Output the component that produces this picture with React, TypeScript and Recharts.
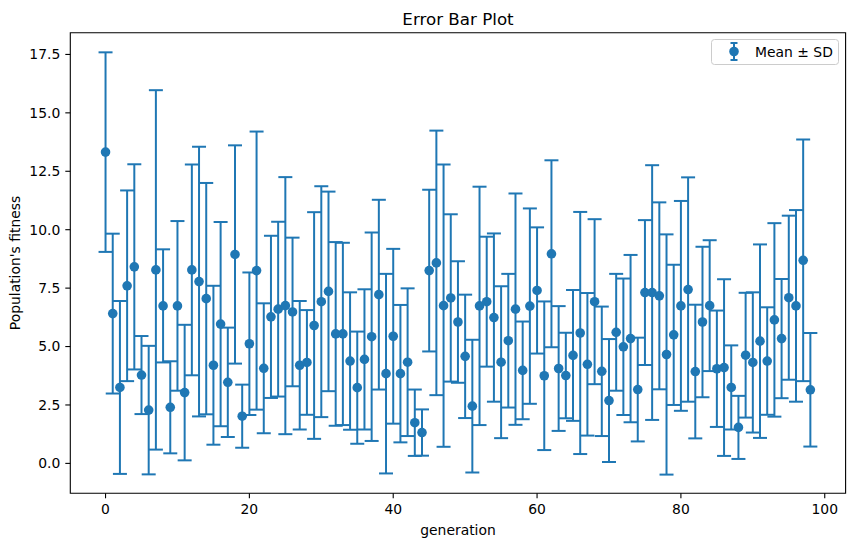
import React from 'react';
import { ScatterChart, Scatter, XAxis, YAxis, ErrorBar, ReferenceArea } from 'recharts';

const generation = [
  0, 1, 2, 3, 4, 5, 6, 7, 8, 9, 10, 11, 12, 13, 14, 15, 16, 17, 18, 19,
  20, 21, 22, 23, 24, 25, 26, 27, 28, 29, 30, 31, 32, 33, 34, 35, 36, 37, 38, 39,
  40, 41, 42, 43, 44, 45, 46, 47, 48, 49, 50, 51, 52, 53, 54, 55, 56, 57, 58, 59,
  60, 61, 62, 63, 64, 65, 66, 67, 68, 69, 70, 71, 72, 73, 74, 75, 76, 77, 78, 79,
  80, 81, 82, 83, 84, 85, 86, 87, 88, 89, 90, 91, 92, 93, 94, 95, 96, 97, 98,
];

const meanFitness = [
  13.32, 6.41, 3.25, 7.6, 8.41, 3.78, 2.28, 8.28, 6.74, 2.4,
  6.74, 3.03, 8.28, 7.78, 7.05, 4.2, 5.96, 3.47, 8.94, 2.02,
  5.12, 8.25, 4.07, 6.27, 6.6, 6.75, 6.48, 4.2, 4.32, 5.9,
  6.92, 7.36, 5.54, 5.54, 4.38, 3.24, 4.45, 5.42, 7.22, 3.84,
  5.44, 3.84, 4.33, 1.74, 1.32, 8.25, 8.58, 6.75, 7.08, 6.05,
  4.58, 2.45, 6.74, 6.92, 6.24, 4.33, 5.25, 6.6, 3.98, 6.73,
  7.4, 3.75, 8.97, 4.06, 3.76, 4.62, 5.58, 4.24, 6.92, 3.94,
  2.69, 5.61, 4.99, 5.34, 3.16, 7.31, 7.31, 7.17, 4.66, 5.5,
  6.74, 7.44, 3.93, 6.05, 6.75, 4.05, 4.1, 3.25, 1.54, 4.63,
  4.32, 5.23, 4.38, 6.14, 5.34, 7.09, 6.74, 8.69, 3.15,
];

const sdFitness = [
  4.27, 3.42, 3.7, 4.08, 4.39, 1.67, 2.75, 7.69, 2.42, 1.97,
  3.63, 2.9, 4.51, 5.77, 4.95, 3.4, 4.37, 2.34, 4.67, 1.35,
  3.05, 5.95, 2.78, 3.47, 3.74, 5.5, 3.18, 2.75, 2.24, 4.85,
  4.94, 4.27, 3.93, 3.9, 2.94, 2.4, 3.0, 4.46, 4.06, 4.27,
  3.74, 2.94, 3.16, 1.42, 0.99, 3.46, 5.66, 6.04, 3.58, 2.6,
  2.64, 2.84, 5.1, 2.78, 3.6, 3.25, 2.86, 4.95, 2.09, 4.18,
  2.7, 3.18, 4.0, 2.67, 1.83, 2.8, 5.18, 3.05, 3.53, 2.77,
  2.63, 2.5, 2.92, 3.58, 2.22, 3.1, 5.45, 4.0, 5.14, 3.0,
  4.49, 4.8, 2.86, 3.22, 2.8, 2.49, 3.78, 1.8, 1.35, 2.67,
  3.0, 4.14, 2.3, 4.14, 2.55, 3.51, 4.1, 5.17, 2.43,
];

const xTicks = [0, 20, 40, 60, 80, 100];
const yTicks = [0, 2.5, 5, 7.5, 10, 12.5, 15, 17.5];

const TITLE = 'Error Bar Plot';
const X_LABEL = 'generation';
const Y_LABEL = "Population's fitness";
const LEGEND_LABEL = 'Mean ± SD';

const BLUE = '#1f77b4';
const FONT = '"DejaVu Sans", sans-serif';

const data = generation.map((g, i) => ({ generation: g, mean: meanFitness[i], sd: sdFitness[i] }));

const renderDot = (props: any) => {
  if (props.cx == null || props.cy == null) return <g />;
  return <circle cx={props.cx} cy={props.cy} r={4.8} fill={BLUE} />;
};

export default function App() {
  return (
    <div style={{ position: 'absolute', left: 0, top: 0, width: 855, height: 547, background: '#fff' }}>
      <ScatterChart width={855} height={547} margin={{ top: 32.7, right: 9.4, bottom: 0, left: 0 }}>
        <XAxis
          type="number"
          dataKey="generation"
          domain={[-4.9, 102.9]}
          ticks={xTicks}
          interval={0}
          allowDataOverflow
          height={53.7}
          tickSize={5}
          tickMargin={5.8}
          axisLine={false}
          tickLine={{ stroke: '#000', strokeWidth: 1.1 }}
          tick={{ fill: '#000', fontSize: 13.9, fontFamily: FONT }}
        />
        <YAxis
          type="number"
          dataKey="mean"
          domain={[-1.28, 18.43]}
          ticks={yTicks}
          interval={0}
          allowDataOverflow
          width={70.3}
          tickSize={5}
          tickMargin={5}
          axisLine={false}
          tickFormatter={(v: number) => v.toFixed(1)}
          tickLine={{ stroke: '#000', strokeWidth: 1.1 }}
          tick={{ fill: '#000', fontSize: 13.9, fontFamily: FONT }}
        />
        <ReferenceArea
          x1={-4.9}
          x2={102.9}
          y1={-1.28}
          y2={18.43}
          fill="none"
          fillOpacity={0}
          stroke="#000"
          strokeWidth={1.1}
          ifOverflow="visible"
        />
        <Scatter data={data} fill={BLUE} isAnimationActive={false} shape={renderDot}>
          <ErrorBar dataKey="sd" direction="y" width={7} stroke={BLUE} strokeWidth={2} isAnimationActive={false} />
        </Scatter>
      </ScatterChart>
      <svg
        width={855}
        height={547}
        style={{ position: 'absolute', left: 0, top: 0, pointerEvents: 'none' }}
      >
        <text x={458} y={24.5} textAnchor="middle" fontSize={16.7} fontFamily={FONT} fill="#000">
          {TITLE}
        </text>
        <text x={458} y={535} textAnchor="middle" fontSize={13.9} fontFamily={FONT} fill="#000">
          {X_LABEL}
        </text>
        <text
          transform="translate(20,263) rotate(-90)"
          textAnchor="middle"
          fontSize={13.9}
          fontFamily={FONT}
          fill="#000"
        >
          {Y_LABEL}
        </text>
        <g transform="translate(711,39)">
          <rect x={0.5} y={0.5} width={127} height={25} rx={3} ry={3} fill="rgba(255,255,255,0.8)" stroke="#cccccc" strokeWidth={1} />
          <line x1={23} y1={4} x2={23} y2={21} stroke={BLUE} strokeWidth={2} />
          <line x1={19.5} y1={4} x2={26.5} y2={4} stroke={BLUE} strokeWidth={2} />
          <line x1={19.5} y1={21} x2={26.5} y2={21} stroke={BLUE} strokeWidth={2} />
          <circle cx={23} cy={12.5} r={4.8} fill={BLUE} />
          <text x={44} y={17.7} fontSize={13.9} fontFamily={FONT} fill="#000">
            {LEGEND_LABEL}
          </text>
        </g>
      </svg>
    </div>
  );
}
